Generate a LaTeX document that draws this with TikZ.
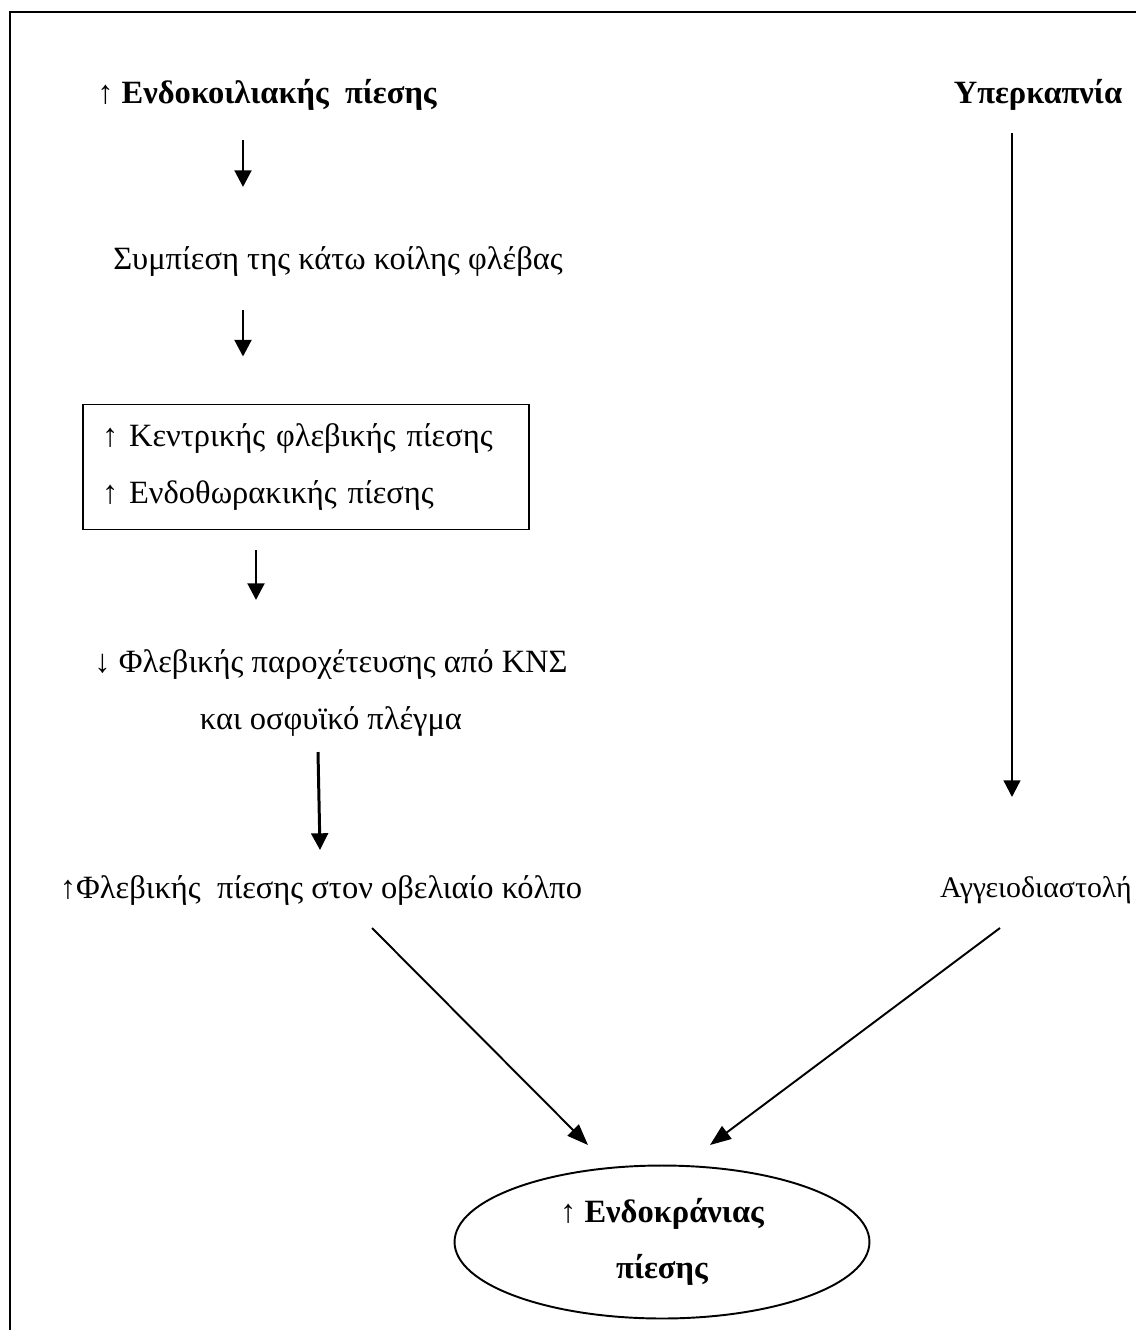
\documentclass[tikz,border=0pt]{standalone}
\usepackage{fontspec}
\setmainfont{Liberation Serif}
\usetikzlibrary{arrows.meta,shapes.geometric}
\begin{document}
\begin{tikzpicture}[x=0.02cm,y=-0.02cm,
  txt/.style={font=\fontsize{18.5}{32}\selectfont, inner sep=0pt},
  btxt/.style={font=\fontsize{18.5}{32}\selectfont\bfseries, inner sep=0pt},
  arr/.style={-{Triangle[width=9.5pt,length=9.5pt]}, line width=1.7pt},
  diag/.style={-{Triangle[width=9pt,length=12pt]}, line width=1.1pt}]
\useasboundingbox (0,0) rectangle (1136,1330);
\draw[line width=1.3pt] (10,1330) -- (10,12) -- (1136,12);

\node[btxt] (endo) at (267,95) {↑ Ενδοκοιλιακής~ πίεσης};
\node[btxt] (hyper) at (1038,95) {Υπερκαπνία};
\node[txt] (compr) at (338,262) {Συμπίεση της κάτω κοίλης φλέβας};
\node[txt, draw, line width=1.1pt, align=left, text width=8.16cm,
  inner xsep=0.38cm, minimum height=2.5cm] (box) at (306,467)
  {↑ Κεντρικής φλεβικής πίεσης\\↑ Ενδοθωρακικής πίεσης};
\node[txt, align=center] (drain) at (331,693)
  {↓ Φλεβικής παροχέτευσης από ΚΝΣ\\και οσφυϊκό πλέγμα};
\node[txt] (sag) at (321,890) {↑Φλεβικής~ πίεσης στον οβελιαίο κόλπο};
\node[txt, font=\fontsize{17}{32}\selectfont] (vaso) at (1036,890) {Αγγειοδιαστολή};
\node[btxt, ellipse, draw, line width=1.1pt, align=center,
  minimum width=8.3cm, minimum height=3.06cm] (icp) at (662,1242)
  {↑ Ενδοκράνιας\\πίεσης};

\draw[arr] ([shift={(-24,45)}]endo.center) -- ([shift={(-95,-75)}]compr.center);
\draw[arr] ([shift={(-95,48)}]compr.center) -- ([shift={(-63,-47)}]box.north);
\draw[arr] ([shift={(-50,20)}]box.south) -- ([shift={(-75,-93)}]drain.center);
\draw[arr] ([shift={(-13,59)}]drain.center) -- ([shift={(-1,-40)}]sag.center);
\draw[arr, line width=1.3pt] ([shift={(-26,38)}]hyper.center) -- ([shift={(-24,-93)}]vaso.center);

\draw[diag] ([shift={(51,38)}]sag.center) -- ([shift={(-74,-97)}]icp.center);
\draw[diag] ([shift={(-36,38)}]vaso.center) -- ([shift={(48,-97)}]icp.center);
\end{tikzpicture}
\end{document}
